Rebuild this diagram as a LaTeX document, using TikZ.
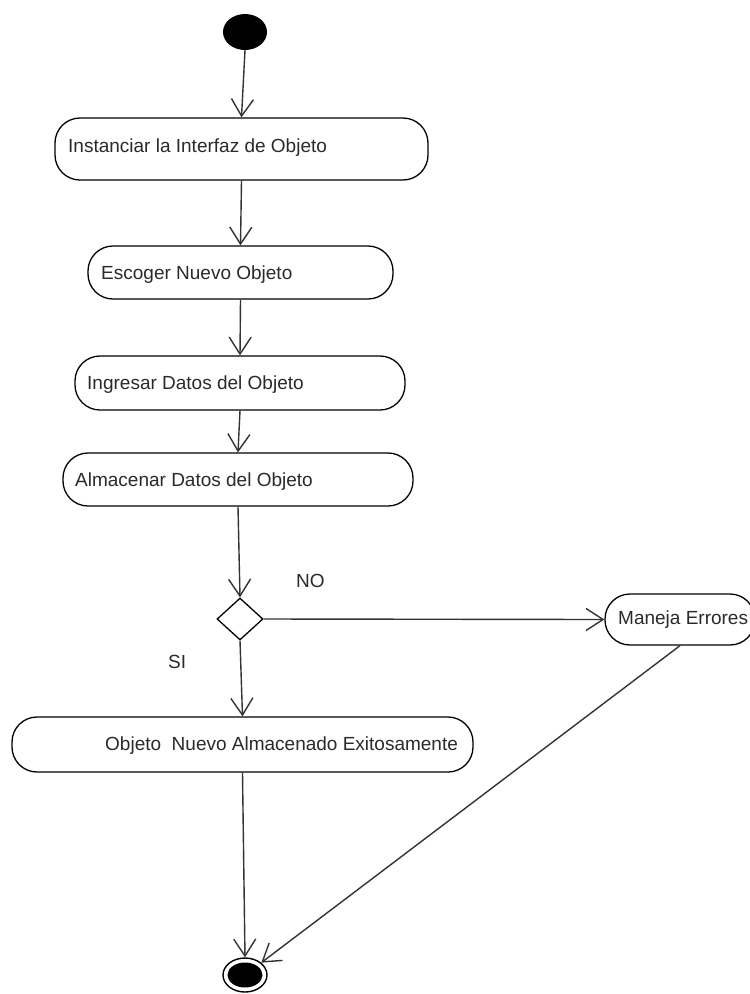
\documentclass[tikz,border=0pt]{standalone}
\usepackage{fontspec}
\setmainfont{Liberation Sans}
\usetikzlibrary{arrows.meta,shapes.geometric}
\definecolor{ln}{HTML}{333333}
\definecolor{tx}{HTML}{2A2A2A}
\begin{document}
\begin{tikzpicture}[x=1pt,y=-1pt,
  act/.style={draw=black,line width=1.3pt,rounded corners=25pt,inner sep=0pt},
  lbl/.style={anchor=base west,inner sep=0pt,text=tx,font=\fontsize{19}{22}\selectfont},
  arr/.style={draw=ln,line width=1.4pt,-{Straight Barb[length=17pt,width=22pt]}},
  ln/.style={draw=ln,line width=1.4pt}]
\useasboundingbox (0,0) rectangle (750,994);
\fill[white] (0,0) rectangle (750,994);
% start
\node[ellipse,fill=black,minimum width=44pt,minimum height=36pt,inner sep=0pt] (start) at (245,32) {};
% activities
\node[act,minimum width=373pt,minimum height=62pt] (a1) at (241.5,149) {};
\node[lbl] (t1) at (68,152) {Instanciar la Interfaz de Objeto};
\node[act,minimum width=305pt,minimum height=53pt] (a2) at (240.5,272.5) {};
\node[lbl] (t2) at (101,279) {Escoger Nuevo Objeto};
\node[act,minimum width=330pt,minimum height=54pt] (a3) at (240,383) {};
\node[lbl] (t3) at (87,389) {Ingresar Datos del Objeto};
\node[act,minimum width=350pt,minimum height=53pt] (a4) at (238,479.5) {};
\node[lbl] (t4) at (75,486) {Almacenar Datos del Objeto};
% decision
\node[diamond,draw=black,line width=1.3pt,minimum width=46pt,minimum height=42pt,inner sep=0pt] (dec) at (240,619) {};
\node[lbl] (no) at (296,587) {NO};
\node[lbl] (si) at (168,668) {SI};
% error
\node[act,minimum width=150pt,minimum height=51pt] (me) at (680,619.5) {};
\node[lbl] (t6) at (618,624) {Maneja Errores};
% success
\node[act,minimum width=461pt,minimum height=55pt] (a5) at (242.5,744.5) {};
\node[lbl] (t5) at (105,750) {Objeto\ \ Nuevo Almacenado Exitosamente};
% end
\node[ellipse,draw=black,line width=1.4pt,minimum width=44pt,minimum height=34pt,inner sep=0pt] (end) at (245,975) {};
\fill[black] (end.center) ellipse [x radius=17.5pt, y radius=12.5pt];
% connectors
\draw[arr] (start.south) -- (a1.north);
\draw[arr] (a1.south) -- (a2.north);
\draw[arr] (a2.south) -- (a3.north);
\draw[arr] (a3.south) -- (a4.north);
\draw[arr] (a4.south) -- (dec.north);
\draw[arr] (dec.east) -- (me.west);
\draw[arr] (dec.south) -- (a5.north);
\draw[arr] (a5.south) -- (end.north);
\draw[arr] (me.south) -- (end);
\end{tikzpicture}
\end{document}
